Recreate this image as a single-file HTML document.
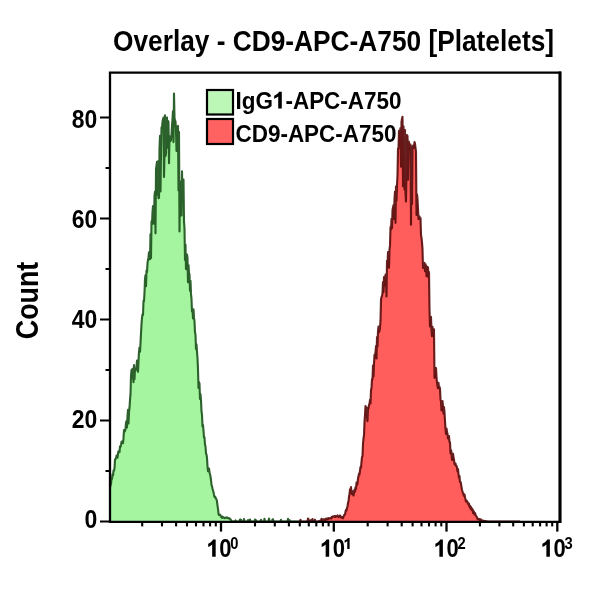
<!DOCTYPE html>
<html><head><meta charset="utf-8"><style>html,body{margin:0;padding:0;background:#fff;width:600px;height:600px;overflow:hidden}svg{display:block;will-change:transform}</style></head>
<body><svg width="600" height="600" viewBox="0 0 600 600"><g opacity="0.999">
<rect width="600" height="600" fill="#fff"/>
<path d="M110.00,521.5 L110.00,487.55 L110.50,485.46 L111.00,483.83 L111.50,479.44 L112.00,478.94 L112.50,474.19 L113.00,475.60 L113.50,470.67 L114.00,470.68 L114.50,468.36 L115.00,459.69 L115.50,458.82 L116.00,458.41 L116.50,455.58 L117.00,456.67 L117.50,457.72 L118.00,453.28 L118.50,451.19 L119.00,451.28 L119.50,452.08 L120.00,446.18 L120.50,446.90 L121.00,444.90 L121.50,441.88 L122.00,441.43 L122.50,442.69 L123.00,443.25 L123.50,438.13 L124.00,430.00 L124.50,431.71 L125.00,430.96 L125.50,429.00 L126.00,422.55 L126.50,421.19 L127.00,427.53 L127.50,416.05 L128.00,409.73 L128.50,423.51 L129.00,412.22 L129.50,407.98 L130.00,400.08 L130.50,394.18 L131.00,375.80 L131.50,370.12 L132.00,377.72 L132.50,368.82 L133.00,375.61 L133.50,382.21 L134.00,365.05 L134.50,379.26 L135.00,368.69 L135.50,370.29 L136.00,369.52 L136.50,366.75 L137.00,360.62 L137.50,369.15 L138.00,371.69 L138.50,361.06 L139.00,351.59 L139.50,347.44 L140.00,351.72 L140.50,343.11 L141.00,333.18 L141.50,324.14 L142.00,317.84 L142.50,314.42 L143.00,314.99 L143.50,300.91 L144.00,301.25 L144.50,292.47 L145.00,278.84 L145.50,275.17 L146.00,286.27 L146.50,270.62 L147.00,272.14 L147.50,263.14 L148.00,259.87 L148.50,257.38 L149.00,252.20 L149.50,259.20 L150.00,259.21 L150.50,234.02 L151.00,258.10 L151.50,221.24 L152.00,224.10 L152.50,212.01 L153.00,206.08 L153.50,213.76 L154.00,223.68 L154.50,195.70 L155.00,191.53 L155.50,233.34 L156.00,169.15 L156.50,165.48 L157.00,161.69 L157.50,194.61 L158.00,161.24 L158.50,198.22 L159.00,197.83 L159.50,148.35 L160.00,135.70 L160.50,191.52 L161.00,154.12 L161.50,127.41 L162.00,127.85 L162.50,121.98 L163.00,118.97 L163.50,117.53 L164.00,177.07 L164.50,154.36 L165.00,115.26 L165.50,156.00 L166.00,153.11 L166.50,119.86 L167.00,117.54 L167.50,147.64 L168.00,120.84 L168.50,122.00 L169.00,163.32 L169.50,136.07 L170.00,141.26 L170.50,137.22 L171.00,140.52 L171.50,135.52 L172.00,125.35 L172.50,119.09 L173.00,111.10 L173.50,142.11 L174.00,93.50 L174.50,117.76 L175.00,120.74 L175.50,121.24 L176.00,129.51 L176.50,150.97 L177.00,128.02 L177.50,126.90 L178.00,125.92 L178.50,190.48 L179.00,131.90 L179.50,231.51 L180.00,190.49 L180.50,186.32 L181.00,181.37 L181.50,215.44 L182.00,171.19 L182.50,197.92 L183.00,201.00 L183.50,179.56 L184.00,221.40 L184.50,228.30 L185.00,259.96 L185.50,244.48 L186.00,269.09 L186.50,259.26 L187.00,254.56 L187.50,257.99 L188.00,282.14 L188.50,264.95 L189.00,272.77 L189.50,274.44 L190.00,290.84 L190.50,280.85 L191.00,293.88 L191.50,298.78 L192.00,311.50 L192.50,309.57 L193.00,318.56 L193.50,309.41 L194.00,317.68 L194.50,321.08 L195.00,332.48 L195.50,334.42 L196.00,349.01 L196.50,344.37 L197.00,351.84 L197.50,357.83 L198.00,368.97 L198.50,388.06 L199.00,382.08 L199.50,383.66 L200.00,398.90 L200.50,393.98 L201.00,400.40 L201.50,411.36 L202.00,414.80 L202.50,426.42 L203.00,424.89 L203.50,430.63 L204.00,437.46 L204.50,437.29 L205.00,444.89 L205.50,446.29 L206.00,453.58 L206.50,454.30 L207.00,458.02 L207.50,466.16 L208.00,471.16 L208.50,470.87 L209.00,468.46 L209.50,472.17 L210.00,474.14 L210.50,476.40 L211.00,480.01 L211.50,484.79 L212.00,486.17 L212.50,488.42 L213.00,490.45 L213.50,491.97 L214.00,494.95 L214.50,497.08 L215.00,496.47 L215.50,497.37 L216.00,498.70 L216.50,499.16 L217.00,501.41 L217.50,505.60 L218.00,508.72 L218.50,513.59 L219.00,515.04 L219.50,514.83 L220.00,514.67 L220.50,515.37 L221.00,516.66 L221.50,517.29 L222.00,517.90 L222.50,516.52 L223.00,517.17 L223.50,517.42 L224.00,517.81 L224.50,518.06 L225.00,518.28 L225.50,517.53 L226.00,517.59 L226.50,517.69 L227.00,517.43 L227.50,518.16 L228.00,517.98 L228.50,517.96 L229.00,518.31 L229.50,518.52 L230.00,519.00 L230.50,519.17 L231.00,520.00 L231.50,520.75 L232.00,521.50 L232.50,521.50 L233.00,521.50 L233.50,521.50 L234.00,521.50 L234.50,521.50 L235.00,521.50 L235.50,520.38 L236.00,521.50 L236.50,521.50 L237.00,521.50 L237.50,521.50 L238.00,521.50 L238.50,521.50 L239.00,521.50 L239.50,521.50 L240.00,519.55 L240.50,521.50 L241.00,519.68 L241.50,521.50 L242.00,521.50 L242.50,521.50 L243.00,521.50 L243.50,521.50 L244.00,518.99 L244.50,521.50 L245.00,521.50 L245.50,521.50 L246.00,521.50 L246.50,521.50 L247.00,521.50 L247.50,521.50 L248.00,520.11 L248.50,521.50 L249.00,521.50 L249.50,521.50 L250.00,519.50 L250.50,521.50 L251.00,521.50 L251.50,521.50 L252.00,521.50 L252.50,521.50 L253.00,521.50 L253.50,521.50 L254.00,521.50 L254.50,521.50 L255.00,519.55 L255.50,521.50 L256.00,520.12 L256.50,521.50 L257.00,521.50 L257.50,521.50 L258.00,521.50 L258.50,521.50 L259.00,521.50 L259.50,521.50 L260.00,521.50 L260.50,521.50 L261.00,519.71 L261.50,521.50 L262.00,521.50 L262.50,521.50 L263.00,521.50 L263.50,521.50 L264.00,521.50 L264.50,518.70 L265.00,521.50 L265.50,521.50 L266.00,521.50 L266.50,521.50 L267.00,521.50 L267.50,521.50 L268.00,521.50 L268.50,521.50 L269.00,518.65 L269.50,521.50 L270.00,521.50 L270.50,521.50 L271.00,521.50 L271.50,521.50 L272.00,521.50 L272.50,519.38 L273.00,519.30 L273.50,521.50 L274.00,521.50 L274.50,521.50 L275.00,521.50 L275.50,521.50 L276.00,521.50 L276.50,521.50 L277.00,521.50 L277.50,521.50 L278.00,521.50 L278.50,521.50 L279.00,521.50 L279.50,521.50 L280.00,521.50 L280.50,521.50 L281.00,519.80 L281.50,521.50 L282.00,521.50 L282.50,521.50 L283.00,521.50 L283.50,521.50 L284.00,521.50 L284.50,521.50 L285.00,521.50 L285.50,521.50 L286.00,521.50 L286.50,521.50 L287.00,521.50 L287.50,521.50 L288.00,518.86 L288.50,521.50 L289.00,521.50 L289.50,520.20 L290.00,521.50 L290.50,521.50 L291.00,521.50 L291.50,521.50 L292.00,521.50 L292.50,521.50 L293.00,521.50 L293.50,521.50 L294.00,521.50 L294.50,521.50 L295.00,521.50 L295.50,521.50 L296.00,521.50 L296.50,521.50 L297.00,521.50 L297.50,521.50 L298.00,521.50 L298.50,521.50 L299.00,521.50 L299.50,521.50 L300.00,521.50 L300.00,521.5 Z" fill="#a5f4a0"/>
<path d="M110.00,487.55 L110.50,485.46 L111.00,483.83 L111.50,479.44 L112.00,478.94 L112.50,474.19 L113.00,475.60 L113.50,470.67 L114.00,470.68 L114.50,468.36 L115.00,459.69 L115.50,458.82 L116.00,458.41 L116.50,455.58 L117.00,456.67 L117.50,457.72 L118.00,453.28 L118.50,451.19 L119.00,451.28 L119.50,452.08 L120.00,446.18 L120.50,446.90 L121.00,444.90 L121.50,441.88 L122.00,441.43 L122.50,442.69 L123.00,443.25 L123.50,438.13 L124.00,430.00 L124.50,431.71 L125.00,430.96 L125.50,429.00 L126.00,422.55 L126.50,421.19 L127.00,427.53 L127.50,416.05 L128.00,409.73 L128.50,423.51 L129.00,412.22 L129.50,407.98 L130.00,400.08 L130.50,394.18 L131.00,375.80 L131.50,370.12 L132.00,377.72 L132.50,368.82 L133.00,375.61 L133.50,382.21 L134.00,365.05 L134.50,379.26 L135.00,368.69 L135.50,370.29 L136.00,369.52 L136.50,366.75 L137.00,360.62 L137.50,369.15 L138.00,371.69 L138.50,361.06 L139.00,351.59 L139.50,347.44 L140.00,351.72 L140.50,343.11 L141.00,333.18 L141.50,324.14 L142.00,317.84 L142.50,314.42 L143.00,314.99 L143.50,300.91 L144.00,301.25 L144.50,292.47 L145.00,278.84 L145.50,275.17 L146.00,286.27 L146.50,270.62 L147.00,272.14 L147.50,263.14 L148.00,259.87 L148.50,257.38 L149.00,252.20 L149.50,259.20 L150.00,259.21 L150.50,234.02 L151.00,258.10 L151.50,221.24 L152.00,224.10 L152.50,212.01 L153.00,206.08 L153.50,213.76 L154.00,223.68 L154.50,195.70 L155.00,191.53 L155.50,233.34 L156.00,169.15 L156.50,165.48 L157.00,161.69 L157.50,194.61 L158.00,161.24 L158.50,198.22 L159.00,197.83 L159.50,148.35 L160.00,135.70 L160.50,191.52 L161.00,154.12 L161.50,127.41 L162.00,127.85 L162.50,121.98 L163.00,118.97 L163.50,117.53 L164.00,177.07 L164.50,154.36 L165.00,115.26 L165.50,156.00 L166.00,153.11 L166.50,119.86 L167.00,117.54 L167.50,147.64 L168.00,120.84 L168.50,122.00 L169.00,163.32 L169.50,136.07 L170.00,141.26 L170.50,137.22 L171.00,140.52 L171.50,135.52 L172.00,125.35 L172.50,119.09 L173.00,111.10 L173.50,142.11 L174.00,93.50 L174.50,117.76 L175.00,120.74 L175.50,121.24 L176.00,129.51 L176.50,150.97 L177.00,128.02 L177.50,126.90 L178.00,125.92 L178.50,190.48 L179.00,131.90 L179.50,231.51 L180.00,190.49 L180.50,186.32 L181.00,181.37 L181.50,215.44 L182.00,171.19 L182.50,197.92 L183.00,201.00 L183.50,179.56 L184.00,221.40 L184.50,228.30 L185.00,259.96 L185.50,244.48 L186.00,269.09 L186.50,259.26 L187.00,254.56 L187.50,257.99 L188.00,282.14 L188.50,264.95 L189.00,272.77 L189.50,274.44 L190.00,290.84 L190.50,280.85 L191.00,293.88 L191.50,298.78 L192.00,311.50 L192.50,309.57 L193.00,318.56 L193.50,309.41 L194.00,317.68 L194.50,321.08 L195.00,332.48 L195.50,334.42 L196.00,349.01 L196.50,344.37 L197.00,351.84 L197.50,357.83 L198.00,368.97 L198.50,388.06 L199.00,382.08 L199.50,383.66 L200.00,398.90 L200.50,393.98 L201.00,400.40 L201.50,411.36 L202.00,414.80 L202.50,426.42 L203.00,424.89 L203.50,430.63 L204.00,437.46 L204.50,437.29 L205.00,444.89 L205.50,446.29 L206.00,453.58 L206.50,454.30 L207.00,458.02 L207.50,466.16 L208.00,471.16 L208.50,470.87 L209.00,468.46 L209.50,472.17 L210.00,474.14 L210.50,476.40 L211.00,480.01 L211.50,484.79 L212.00,486.17 L212.50,488.42 L213.00,490.45 L213.50,491.97 L214.00,494.95 L214.50,497.08 L215.00,496.47 L215.50,497.37 L216.00,498.70 L216.50,499.16 L217.00,501.41 L217.50,505.60 L218.00,508.72 L218.50,513.59 L219.00,515.04 L219.50,514.83 L220.00,514.67 L220.50,515.37 L221.00,516.66 L221.50,517.29 L222.00,517.90 L222.50,516.52 L223.00,517.17 L223.50,517.42 L224.00,517.81 L224.50,518.06 L225.00,518.28 L225.50,517.53 L226.00,517.59 L226.50,517.69 L227.00,517.43 L227.50,518.16 L228.00,517.98 L228.50,517.96 L229.00,518.31 L229.50,518.52 L230.00,519.00 L230.50,519.17 L231.00,520.00 L231.50,520.75 L232.00,521.50 L232.50,521.50 L233.00,521.50 L233.50,521.50 L234.00,521.50 L234.50,521.50 L235.00,521.50 L235.50,520.38 L236.00,521.50 L236.50,521.50 L237.00,521.50 L237.50,521.50 L238.00,521.50 L238.50,521.50 L239.00,521.50 L239.50,521.50 L240.00,519.55 L240.50,521.50 L241.00,519.68 L241.50,521.50 L242.00,521.50 L242.50,521.50 L243.00,521.50 L243.50,521.50 L244.00,518.99 L244.50,521.50 L245.00,521.50 L245.50,521.50 L246.00,521.50 L246.50,521.50 L247.00,521.50 L247.50,521.50 L248.00,520.11 L248.50,521.50 L249.00,521.50 L249.50,521.50 L250.00,519.50 L250.50,521.50 L251.00,521.50 L251.50,521.50 L252.00,521.50 L252.50,521.50 L253.00,521.50 L253.50,521.50 L254.00,521.50 L254.50,521.50 L255.00,519.55 L255.50,521.50 L256.00,520.12 L256.50,521.50 L257.00,521.50 L257.50,521.50 L258.00,521.50 L258.50,521.50 L259.00,521.50 L259.50,521.50 L260.00,521.50 L260.50,521.50 L261.00,519.71 L261.50,521.50 L262.00,521.50 L262.50,521.50 L263.00,521.50 L263.50,521.50 L264.00,521.50 L264.50,518.70 L265.00,521.50 L265.50,521.50 L266.00,521.50 L266.50,521.50 L267.00,521.50 L267.50,521.50 L268.00,521.50 L268.50,521.50 L269.00,518.65 L269.50,521.50 L270.00,521.50 L270.50,521.50 L271.00,521.50 L271.50,521.50 L272.00,521.50 L272.50,519.38 L273.00,519.30 L273.50,521.50 L274.00,521.50 L274.50,521.50 L275.00,521.50 L275.50,521.50 L276.00,521.50 L276.50,521.50 L277.00,521.50 L277.50,521.50 L278.00,521.50 L278.50,521.50 L279.00,521.50 L279.50,521.50 L280.00,521.50 L280.50,521.50 L281.00,519.80 L281.50,521.50 L282.00,521.50 L282.50,521.50 L283.00,521.50 L283.50,521.50 L284.00,521.50 L284.50,521.50 L285.00,521.50 L285.50,521.50 L286.00,521.50 L286.50,521.50 L287.00,521.50 L287.50,521.50 L288.00,518.86 L288.50,521.50 L289.00,521.50 L289.50,520.20 L290.00,521.50 L290.50,521.50 L291.00,521.50 L291.50,521.50 L292.00,521.50 L292.50,521.50 L293.00,521.50 L293.50,521.50 L294.00,521.50 L294.50,521.50 L295.00,521.50 L295.50,521.50 L296.00,521.50 L296.50,521.50 L297.00,521.50 L297.50,521.50 L298.00,521.50 L298.50,521.50 L299.00,521.50 L299.50,521.50 L300.00,521.50" fill="none" stroke="#1a501a" stroke-width="2.1" stroke-linejoin="round" stroke-opacity="0.9"/>
<path d="M300.00,521.5 L300.00,521.50 L300.50,519.83 L301.00,521.50 L301.50,521.50 L302.00,521.50 L302.50,521.50 L303.00,521.50 L303.50,521.50 L304.00,521.50 L304.50,521.50 L305.00,521.50 L305.50,521.50 L306.00,521.50 L306.50,521.50 L307.00,521.50 L307.50,521.50 L308.00,518.64 L308.50,519.11 L309.00,521.50 L309.50,521.50 L310.00,521.50 L310.50,521.50 L311.00,520.09 L311.50,521.50 L312.00,521.50 L312.50,518.99 L313.00,521.50 L313.50,521.50 L314.00,521.50 L314.50,521.50 L315.00,519.67 L315.50,521.50 L316.00,521.50 L316.50,521.50 L317.00,521.50 L317.50,521.50 L318.00,521.50 L318.50,521.33 L319.00,521.17 L319.50,521.00 L320.00,520.83 L320.50,520.67 L321.00,520.50 L321.50,518.72 L322.00,520.17 L322.50,520.00 L323.00,519.40 L323.50,519.74 L324.00,519.27 L324.50,519.39 L325.00,520.26 L325.50,519.89 L326.00,518.66 L326.50,518.76 L327.00,519.43 L327.50,518.45 L328.00,519.08 L328.50,518.31 L329.00,518.07 L329.50,518.37 L330.00,518.36 L330.50,518.20 L331.00,517.56 L331.50,518.51 L332.00,516.94 L332.50,516.56 L333.00,516.35 L333.50,516.34 L334.00,516.90 L334.50,516.21 L335.00,515.87 L335.50,516.79 L336.00,516.51 L336.50,516.30 L337.00,516.41 L337.50,515.40 L338.00,516.59 L338.50,517.12 L339.00,516.54 L339.50,515.86 L340.00,515.48 L340.50,516.93 L341.00,517.34 L341.50,516.95 L342.00,517.73 L342.50,517.09 L343.00,518.24 L343.50,516.71 L344.00,515.21 L344.50,514.62 L345.00,514.57 L345.50,511.56 L346.00,509.93 L346.50,510.53 L347.00,507.89 L347.50,506.51 L348.00,502.65 L348.50,501.48 L349.00,496.71 L349.50,494.09 L350.00,489.35 L350.50,489.78 L351.00,487.07 L351.50,493.28 L352.00,494.05 L352.50,491.30 L353.00,493.92 L353.50,495.56 L354.00,492.85 L354.50,489.64 L355.00,491.61 L355.50,487.36 L356.00,488.96 L356.50,482.57 L357.00,484.80 L357.50,483.30 L358.00,478.41 L358.50,476.33 L359.00,473.67 L359.50,474.51 L360.00,470.29 L360.50,466.97 L361.00,467.54 L361.50,461.83 L362.00,456.93 L362.50,456.11 L363.00,443.44 L363.50,438.28 L364.00,435.11 L364.50,422.23 L365.00,414.72 L365.50,406.02 L366.00,407.36 L366.50,414.82 L367.00,415.81 L367.50,421.08 L368.00,407.46 L368.50,408.51 L369.00,404.83 L369.50,403.71 L370.00,399.86 L370.50,403.58 L371.00,390.08 L371.50,387.97 L372.00,379.07 L372.50,379.29 L373.00,365.31 L373.50,376.39 L374.00,363.72 L374.50,354.82 L375.00,355.75 L375.50,352.72 L376.00,345.98 L376.50,358.51 L377.00,337.13 L377.50,346.47 L378.00,331.15 L378.50,326.52 L379.00,332.23 L379.50,330.87 L380.00,327.26 L380.50,320.91 L381.00,299.48 L381.50,297.03 L382.00,296.16 L382.50,293.07 L383.00,282.07 L383.50,291.89 L384.00,277.09 L384.50,279.70 L385.00,285.53 L385.50,274.60 L386.00,275.57 L386.50,296.49 L387.00,260.86 L387.50,264.69 L388.00,252.07 L388.50,255.84 L389.00,267.82 L389.50,249.56 L390.00,245.15 L390.50,226.94 L391.00,229.54 L391.50,218.84 L392.00,228.31 L392.50,210.29 L393.00,207.54 L393.50,205.10 L394.00,218.83 L394.50,199.36 L395.00,191.50 L395.50,222.85 L396.00,186.30 L396.50,200.65 L397.00,185.32 L397.50,175.01 L398.00,148.52 L398.50,148.57 L399.00,130.86 L399.50,131.39 L400.00,131.99 L400.50,127.96 L401.00,166.81 L401.50,121.95 L402.00,118.70 L402.50,116.70 L403.00,186.23 L403.50,126.19 L404.00,146.30 L404.50,189.59 L405.00,129.94 L405.50,193.47 L406.00,201.57 L406.50,168.67 L407.00,135.06 L407.50,135.92 L408.00,179.64 L408.50,141.22 L409.00,142.30 L409.50,146.48 L410.00,148.70 L410.50,144.52 L411.00,224.76 L411.50,148.93 L412.00,203.93 L412.50,146.47 L413.00,145.69 L413.50,146.22 L414.00,147.85 L414.50,141.99 L415.00,143.67 L415.50,147.76 L416.00,151.61 L416.50,214.98 L417.00,194.33 L417.50,198.95 L418.00,209.09 L418.50,218.88 L419.00,218.99 L419.50,216.60 L420.00,219.12 L420.50,218.08 L421.00,234.67 L421.50,237.83 L422.00,242.36 L422.50,248.84 L423.00,268.07 L423.50,267.00 L424.00,263.30 L424.50,262.98 L425.00,271.30 L425.50,264.29 L426.00,266.00 L426.50,276.12 L427.00,266.95 L427.50,266.75 L428.00,267.59 L428.50,277.43 L429.00,272.11 L429.50,309.13 L430.00,326.57 L430.50,317.06 L431.00,316.93 L431.50,330.73 L432.00,336.24 L432.50,326.78 L433.00,333.49 L433.50,329.48 L434.00,329.35 L434.50,377.84 L435.00,367.49 L435.50,372.87 L436.00,368.06 L436.50,376.83 L437.00,382.80 L437.50,385.72 L438.00,388.21 L438.50,382.83 L439.00,388.04 L439.50,386.90 L440.00,388.47 L440.50,399.17 L441.00,401.81 L441.50,410.43 L442.00,403.96 L442.50,400.99 L443.00,406.55 L443.50,413.59 L444.00,407.00 L444.50,412.34 L445.00,421.07 L445.50,429.02 L446.00,434.01 L446.50,428.48 L447.00,431.37 L447.50,434.27 L448.00,438.35 L448.50,438.01 L449.00,436.08 L449.50,442.12 L450.00,442.24 L450.50,453.38 L451.00,449.98 L451.50,452.63 L452.00,460.01 L452.50,455.52 L453.00,453.71 L453.50,456.84 L454.00,459.58 L454.50,464.00 L455.00,464.75 L455.50,463.49 L456.00,465.71 L456.50,465.83 L457.00,467.81 L457.50,471.42 L458.00,469.06 L458.50,474.06 L459.00,477.97 L459.50,476.11 L460.00,481.88 L460.50,481.74 L461.00,483.84 L461.50,486.94 L462.00,489.69 L462.50,491.60 L463.00,492.92 L463.50,494.39 L464.00,495.83 L464.50,494.48 L465.00,497.23 L465.50,499.17 L466.00,501.44 L466.50,500.54 L467.00,501.18 L467.50,501.94 L468.00,503.59 L468.50,504.62 L469.00,503.69 L469.50,506.75 L470.00,505.67 L470.50,508.53 L471.00,507.02 L471.50,509.72 L472.00,508.55 L472.50,509.36 L473.00,512.87 L473.50,510.89 L474.00,512.14 L474.50,514.54 L475.00,513.09 L475.50,514.55 L476.00,515.97 L476.50,516.64 L477.00,517.16 L477.50,519.11 L478.00,518.75 L478.50,519.31 L479.00,518.92 L479.50,519.40 L480.00,519.28 L480.50,520.83 L481.00,519.37 L481.50,520.25 L482.00,520.50 L482.50,520.58 L483.00,520.67 L483.50,520.75 L484.00,520.83 L484.50,520.92 L485.00,521.00 L485.50,521.08 L486.00,521.17 L486.50,521.25 L487.00,521.33 L487.50,521.42 L488.00,521.50 L488.50,521.50 L489.00,521.50 L489.50,521.50 L490.00,521.50 L490.50,521.50 L491.00,521.50 L491.50,521.50 L492.00,521.50 L492.50,521.50 L493.00,521.50 L493.50,521.50 L494.00,521.50 L494.50,521.50 L495.00,521.50 L495.50,521.50 L496.00,521.50 L496.50,521.50 L497.00,521.50 L497.50,521.50 L498.00,521.50 L498.50,521.50 L499.00,521.50 L499.50,521.50 L500.00,521.50 L500.50,521.50 L501.00,521.50 L501.50,521.50 L502.00,521.50 L502.50,521.50 L503.00,521.50 L503.50,521.50 L504.00,521.50 L504.50,521.50 L505.00,521.50 L505.50,521.50 L506.00,521.50 L506.50,521.50 L507.00,521.50 L507.50,521.50 L508.00,521.50 L508.50,521.50 L509.00,521.50 L509.50,521.50 L510.00,521.50 L510.50,521.50 L511.00,521.50 L511.50,521.50 L512.00,521.50 L512.50,521.50 L513.00,521.50 L513.50,521.50 L514.00,521.50 L514.50,521.50 L515.00,521.50 L515.50,521.50 L516.00,521.50 L516.50,521.50 L517.00,521.50 L517.50,521.50 L518.00,521.50 L518.50,521.50 L519.00,521.50 L519.50,521.50 L520.00,521.50 L520.00,521.5 Z" fill="#ff5e5c"/>
<path d="M300.00,521.50 L300.50,519.83 L301.00,521.50 L301.50,521.50 L302.00,521.50 L302.50,521.50 L303.00,521.50 L303.50,521.50 L304.00,521.50 L304.50,521.50 L305.00,521.50 L305.50,521.50 L306.00,521.50 L306.50,521.50 L307.00,521.50 L307.50,521.50 L308.00,518.64 L308.50,519.11 L309.00,521.50 L309.50,521.50 L310.00,521.50 L310.50,521.50 L311.00,520.09 L311.50,521.50 L312.00,521.50 L312.50,518.99 L313.00,521.50 L313.50,521.50 L314.00,521.50 L314.50,521.50 L315.00,519.67 L315.50,521.50 L316.00,521.50 L316.50,521.50 L317.00,521.50 L317.50,521.50 L318.00,521.50 L318.50,521.33 L319.00,521.17 L319.50,521.00 L320.00,520.83 L320.50,520.67 L321.00,520.50 L321.50,518.72 L322.00,520.17 L322.50,520.00 L323.00,519.40 L323.50,519.74 L324.00,519.27 L324.50,519.39 L325.00,520.26 L325.50,519.89 L326.00,518.66 L326.50,518.76 L327.00,519.43 L327.50,518.45 L328.00,519.08 L328.50,518.31 L329.00,518.07 L329.50,518.37 L330.00,518.36 L330.50,518.20 L331.00,517.56 L331.50,518.51 L332.00,516.94 L332.50,516.56 L333.00,516.35 L333.50,516.34 L334.00,516.90 L334.50,516.21 L335.00,515.87 L335.50,516.79 L336.00,516.51 L336.50,516.30 L337.00,516.41 L337.50,515.40 L338.00,516.59 L338.50,517.12 L339.00,516.54 L339.50,515.86 L340.00,515.48 L340.50,516.93 L341.00,517.34 L341.50,516.95 L342.00,517.73 L342.50,517.09 L343.00,518.24 L343.50,516.71 L344.00,515.21 L344.50,514.62 L345.00,514.57 L345.50,511.56 L346.00,509.93 L346.50,510.53 L347.00,507.89 L347.50,506.51 L348.00,502.65 L348.50,501.48 L349.00,496.71 L349.50,494.09 L350.00,489.35 L350.50,489.78 L351.00,487.07 L351.50,493.28 L352.00,494.05 L352.50,491.30 L353.00,493.92 L353.50,495.56 L354.00,492.85 L354.50,489.64 L355.00,491.61 L355.50,487.36 L356.00,488.96 L356.50,482.57 L357.00,484.80 L357.50,483.30 L358.00,478.41 L358.50,476.33 L359.00,473.67 L359.50,474.51 L360.00,470.29 L360.50,466.97 L361.00,467.54 L361.50,461.83 L362.00,456.93 L362.50,456.11 L363.00,443.44 L363.50,438.28 L364.00,435.11 L364.50,422.23 L365.00,414.72 L365.50,406.02 L366.00,407.36 L366.50,414.82 L367.00,415.81 L367.50,421.08 L368.00,407.46 L368.50,408.51 L369.00,404.83 L369.50,403.71 L370.00,399.86 L370.50,403.58 L371.00,390.08 L371.50,387.97 L372.00,379.07 L372.50,379.29 L373.00,365.31 L373.50,376.39 L374.00,363.72 L374.50,354.82 L375.00,355.75 L375.50,352.72 L376.00,345.98 L376.50,358.51 L377.00,337.13 L377.50,346.47 L378.00,331.15 L378.50,326.52 L379.00,332.23 L379.50,330.87 L380.00,327.26 L380.50,320.91 L381.00,299.48 L381.50,297.03 L382.00,296.16 L382.50,293.07 L383.00,282.07 L383.50,291.89 L384.00,277.09 L384.50,279.70 L385.00,285.53 L385.50,274.60 L386.00,275.57 L386.50,296.49 L387.00,260.86 L387.50,264.69 L388.00,252.07 L388.50,255.84 L389.00,267.82 L389.50,249.56 L390.00,245.15 L390.50,226.94 L391.00,229.54 L391.50,218.84 L392.00,228.31 L392.50,210.29 L393.00,207.54 L393.50,205.10 L394.00,218.83 L394.50,199.36 L395.00,191.50 L395.50,222.85 L396.00,186.30 L396.50,200.65 L397.00,185.32 L397.50,175.01 L398.00,148.52 L398.50,148.57 L399.00,130.86 L399.50,131.39 L400.00,131.99 L400.50,127.96 L401.00,166.81 L401.50,121.95 L402.00,118.70 L402.50,116.70 L403.00,186.23 L403.50,126.19 L404.00,146.30 L404.50,189.59 L405.00,129.94 L405.50,193.47 L406.00,201.57 L406.50,168.67 L407.00,135.06 L407.50,135.92 L408.00,179.64 L408.50,141.22 L409.00,142.30 L409.50,146.48 L410.00,148.70 L410.50,144.52 L411.00,224.76 L411.50,148.93 L412.00,203.93 L412.50,146.47 L413.00,145.69 L413.50,146.22 L414.00,147.85 L414.50,141.99 L415.00,143.67 L415.50,147.76 L416.00,151.61 L416.50,214.98 L417.00,194.33 L417.50,198.95 L418.00,209.09 L418.50,218.88 L419.00,218.99 L419.50,216.60 L420.00,219.12 L420.50,218.08 L421.00,234.67 L421.50,237.83 L422.00,242.36 L422.50,248.84 L423.00,268.07 L423.50,267.00 L424.00,263.30 L424.50,262.98 L425.00,271.30 L425.50,264.29 L426.00,266.00 L426.50,276.12 L427.00,266.95 L427.50,266.75 L428.00,267.59 L428.50,277.43 L429.00,272.11 L429.50,309.13 L430.00,326.57 L430.50,317.06 L431.00,316.93 L431.50,330.73 L432.00,336.24 L432.50,326.78 L433.00,333.49 L433.50,329.48 L434.00,329.35 L434.50,377.84 L435.00,367.49 L435.50,372.87 L436.00,368.06 L436.50,376.83 L437.00,382.80 L437.50,385.72 L438.00,388.21 L438.50,382.83 L439.00,388.04 L439.50,386.90 L440.00,388.47 L440.50,399.17 L441.00,401.81 L441.50,410.43 L442.00,403.96 L442.50,400.99 L443.00,406.55 L443.50,413.59 L444.00,407.00 L444.50,412.34 L445.00,421.07 L445.50,429.02 L446.00,434.01 L446.50,428.48 L447.00,431.37 L447.50,434.27 L448.00,438.35 L448.50,438.01 L449.00,436.08 L449.50,442.12 L450.00,442.24 L450.50,453.38 L451.00,449.98 L451.50,452.63 L452.00,460.01 L452.50,455.52 L453.00,453.71 L453.50,456.84 L454.00,459.58 L454.50,464.00 L455.00,464.75 L455.50,463.49 L456.00,465.71 L456.50,465.83 L457.00,467.81 L457.50,471.42 L458.00,469.06 L458.50,474.06 L459.00,477.97 L459.50,476.11 L460.00,481.88 L460.50,481.74 L461.00,483.84 L461.50,486.94 L462.00,489.69 L462.50,491.60 L463.00,492.92 L463.50,494.39 L464.00,495.83 L464.50,494.48 L465.00,497.23 L465.50,499.17 L466.00,501.44 L466.50,500.54 L467.00,501.18 L467.50,501.94 L468.00,503.59 L468.50,504.62 L469.00,503.69 L469.50,506.75 L470.00,505.67 L470.50,508.53 L471.00,507.02 L471.50,509.72 L472.00,508.55 L472.50,509.36 L473.00,512.87 L473.50,510.89 L474.00,512.14 L474.50,514.54 L475.00,513.09 L475.50,514.55 L476.00,515.97 L476.50,516.64 L477.00,517.16 L477.50,519.11 L478.00,518.75 L478.50,519.31 L479.00,518.92 L479.50,519.40 L480.00,519.28 L480.50,520.83 L481.00,519.37 L481.50,520.25 L482.00,520.50 L482.50,520.58 L483.00,520.67 L483.50,520.75 L484.00,520.83 L484.50,520.92 L485.00,521.00 L485.50,521.08 L486.00,521.17 L486.50,521.25 L487.00,521.33 L487.50,521.42 L488.00,521.50 L488.50,521.50 L489.00,521.50 L489.50,521.50 L490.00,521.50 L490.50,521.50 L491.00,521.50 L491.50,521.50 L492.00,521.50 L492.50,521.50 L493.00,521.50 L493.50,521.50 L494.00,521.50 L494.50,521.50 L495.00,521.50 L495.50,521.50 L496.00,521.50 L496.50,521.50 L497.00,521.50 L497.50,521.50 L498.00,521.50 L498.50,521.50 L499.00,521.50 L499.50,521.50 L500.00,521.50 L500.50,521.50 L501.00,521.50 L501.50,521.50 L502.00,521.50 L502.50,521.50 L503.00,521.50 L503.50,521.50 L504.00,521.50 L504.50,521.50 L505.00,521.50 L505.50,521.50 L506.00,521.50 L506.50,521.50 L507.00,521.50 L507.50,521.50 L508.00,521.50 L508.50,521.50 L509.00,521.50 L509.50,521.50 L510.00,521.50 L510.50,521.50 L511.00,521.50 L511.50,521.50 L512.00,521.50 L512.50,521.50 L513.00,521.50 L513.50,521.50 L514.00,521.50 L514.50,521.50 L515.00,521.50 L515.50,521.50 L516.00,521.50 L516.50,521.50 L517.00,521.50 L517.50,521.50 L518.00,521.50 L518.50,521.50 L519.00,521.50 L519.50,521.50 L520.00,521.50" fill="none" stroke="#560a0a" stroke-width="2.1" stroke-linejoin="round" stroke-opacity="0.9"/>
<path d="M110,72.7 L560,72.7 L560,521.8 L110,521.8 Z" fill="none" stroke="#000" stroke-width="2.3"/><line x1="560" y1="71.5" x2="560" y2="523" stroke="#000" stroke-width="3"/>
<line x1="100" y1="521.5" x2="110" y2="521.5" stroke="#000" stroke-width="2"/>
<line x1="100" y1="420.5" x2="110" y2="420.5" stroke="#000" stroke-width="2"/>
<line x1="100" y1="319.5" x2="110" y2="319.5" stroke="#000" stroke-width="2"/>
<line x1="100" y1="218.5" x2="110" y2="218.5" stroke="#000" stroke-width="2"/>
<line x1="100" y1="117.5" x2="110" y2="117.5" stroke="#000" stroke-width="2"/>
<line x1="105.5" y1="471.0" x2="110" y2="471.0" stroke="#000" stroke-width="2"/>
<line x1="105.5" y1="370.0" x2="110" y2="370.0" stroke="#000" stroke-width="2"/>
<line x1="105.5" y1="269.0" x2="110" y2="269.0" stroke="#000" stroke-width="2"/>
<line x1="105.5" y1="168.0" x2="110" y2="168.0" stroke="#000" stroke-width="2"/>
<line x1="142.2" y1="522" x2="142.2" y2="526.4" stroke="#000" stroke-width="2.1"/>
<line x1="162.0" y1="522" x2="162.0" y2="526.4" stroke="#000" stroke-width="2.1"/>
<line x1="176.1" y1="522" x2="176.1" y2="526.4" stroke="#000" stroke-width="2.1"/>
<line x1="187.0" y1="522" x2="187.0" y2="526.4" stroke="#000" stroke-width="2.1"/>
<line x1="196.0" y1="522" x2="196.0" y2="526.4" stroke="#000" stroke-width="2.1"/>
<line x1="203.5" y1="522" x2="203.5" y2="526.4" stroke="#000" stroke-width="2.1"/>
<line x1="210.1" y1="522" x2="210.1" y2="526.4" stroke="#000" stroke-width="2.1"/>
<line x1="215.8" y1="522" x2="215.8" y2="526.4" stroke="#000" stroke-width="2.1"/>
<line x1="221.0" y1="522" x2="221.0" y2="531.6" stroke="#000" stroke-width="2.3"/>
<line x1="255.0" y1="522" x2="255.0" y2="526.4" stroke="#000" stroke-width="2.1"/>
<line x1="274.8" y1="522" x2="274.8" y2="526.4" stroke="#000" stroke-width="2.1"/>
<line x1="288.9" y1="522" x2="288.9" y2="526.4" stroke="#000" stroke-width="2.1"/>
<line x1="299.8" y1="522" x2="299.8" y2="526.4" stroke="#000" stroke-width="2.1"/>
<line x1="308.8" y1="522" x2="308.8" y2="526.4" stroke="#000" stroke-width="2.1"/>
<line x1="316.3" y1="522" x2="316.3" y2="526.4" stroke="#000" stroke-width="2.1"/>
<line x1="322.9" y1="522" x2="322.9" y2="526.4" stroke="#000" stroke-width="2.1"/>
<line x1="328.6" y1="522" x2="328.6" y2="526.4" stroke="#000" stroke-width="2.1"/>
<line x1="333.8" y1="522" x2="333.8" y2="531.6" stroke="#000" stroke-width="2.3"/>
<line x1="367.7" y1="522" x2="367.7" y2="526.4" stroke="#000" stroke-width="2.1"/>
<line x1="387.6" y1="522" x2="387.6" y2="526.4" stroke="#000" stroke-width="2.1"/>
<line x1="401.7" y1="522" x2="401.7" y2="526.4" stroke="#000" stroke-width="2.1"/>
<line x1="412.6" y1="522" x2="412.6" y2="526.4" stroke="#000" stroke-width="2.1"/>
<line x1="421.5" y1="522" x2="421.5" y2="526.4" stroke="#000" stroke-width="2.1"/>
<line x1="429.0" y1="522" x2="429.0" y2="526.4" stroke="#000" stroke-width="2.1"/>
<line x1="435.6" y1="522" x2="435.6" y2="526.4" stroke="#000" stroke-width="2.1"/>
<line x1="441.3" y1="522" x2="441.3" y2="526.4" stroke="#000" stroke-width="2.1"/>
<line x1="446.5" y1="522" x2="446.5" y2="531.6" stroke="#000" stroke-width="2.3"/>
<line x1="479.9" y1="522" x2="479.9" y2="526.4" stroke="#000" stroke-width="2.1"/>
<line x1="499.4" y1="522" x2="499.4" y2="526.4" stroke="#000" stroke-width="2.1"/>
<line x1="513.2" y1="522" x2="513.2" y2="526.4" stroke="#000" stroke-width="2.1"/>
<line x1="523.9" y1="522" x2="523.9" y2="526.4" stroke="#000" stroke-width="2.1"/>
<line x1="532.7" y1="522" x2="532.7" y2="526.4" stroke="#000" stroke-width="2.1"/>
<line x1="540.1" y1="522" x2="540.1" y2="526.4" stroke="#000" stroke-width="2.1"/>
<line x1="546.6" y1="522" x2="546.6" y2="526.4" stroke="#000" stroke-width="2.1"/>
<line x1="552.2" y1="522" x2="552.2" y2="526.4" stroke="#000" stroke-width="2.1"/>
<line x1="557.3" y1="522" x2="557.3" y2="531.6" stroke="#000" stroke-width="2.3"/>
<text id="t1" x="113" y="51" font-family='"Liberation Sans", sans-serif' font-weight="bold" font-size="29" textLength="441" lengthAdjust="spacingAndGlyphs" text-anchor="start" >Overlay - CD9-APC-A750 [Platelets]</text>
<text id="t2" x="97.2" y="527.6" font-family='"Liberation Sans", sans-serif' font-weight="bold" font-size="25.5" textLength="12.8" lengthAdjust="spacingAndGlyphs" text-anchor="end" >0</text>
<text id="t3" x="97.2" y="427.6" font-family='"Liberation Sans", sans-serif' font-weight="bold" font-size="25.5" textLength="25.5" lengthAdjust="spacingAndGlyphs" text-anchor="end" >20</text>
<text id="t4" x="97.2" y="327.6" font-family='"Liberation Sans", sans-serif' font-weight="bold" font-size="25.5" textLength="25.5" lengthAdjust="spacingAndGlyphs" text-anchor="end" >40</text>
<text id="t5" x="97.2" y="227.60000000000002" font-family='"Liberation Sans", sans-serif' font-weight="bold" font-size="25.5" textLength="25.5" lengthAdjust="spacingAndGlyphs" text-anchor="end" >60</text>
<text id="t6" x="97.2" y="127.60000000000002" font-family='"Liberation Sans", sans-serif' font-weight="bold" font-size="25.5" textLength="25.5" lengthAdjust="spacingAndGlyphs" text-anchor="end" >80</text>
<text id="t7" x="207.0" y="556.8" font-family='"Liberation Sans", sans-serif' font-weight="bold" font-size="25" textLength="24.5" lengthAdjust="spacingAndGlyphs" text-anchor="start" ><tspan fill="transparent">1</tspan>0</text><path d="M806,0 L480,0 L480,1010 Q330,880 110,811 L110,1076 Q240,1115 375,1208 Q510,1300 560,1409 L806,1409 Z" transform="translate(207.00,556.8) scale(0.01076,-0.01221)" fill="#000"/>
<text id="t8" x="230.3" y="549.0" font-family='"Liberation Sans", sans-serif' font-weight="bold" font-size="16" textLength="8.2" lengthAdjust="spacingAndGlyphs" text-anchor="start" >0</text>
<text id="t9" x="320.5" y="556.8" font-family='"Liberation Sans", sans-serif' font-weight="bold" font-size="25" textLength="24.5" lengthAdjust="spacingAndGlyphs" text-anchor="start" ><tspan fill="transparent">1</tspan>0</text><path d="M806,0 L480,0 L480,1010 Q330,880 110,811 L110,1076 Q240,1115 375,1208 Q510,1300 560,1409 L806,1409 Z" transform="translate(320.50,556.8) scale(0.01076,-0.01221)" fill="#000"/>
<text id="t10" x="343.8" y="549.0" font-family='"Liberation Sans", sans-serif' font-weight="bold" font-size="16" textLength="8.2" lengthAdjust="spacingAndGlyphs" text-anchor="start" ><tspan fill="transparent">1</tspan></text><path d="M806,0 L480,0 L480,1010 Q330,880 110,811 L110,1076 Q240,1115 375,1208 Q510,1300 560,1409 L806,1409 Z" transform="translate(343.80,549.0) scale(0.00720,-0.00781)" fill="#000"/>
<text id="t11" x="434.2" y="556.8" font-family='"Liberation Sans", sans-serif' font-weight="bold" font-size="25" textLength="24.5" lengthAdjust="spacingAndGlyphs" text-anchor="start" ><tspan fill="transparent">1</tspan>0</text><path d="M806,0 L480,0 L480,1010 Q330,880 110,811 L110,1076 Q240,1115 375,1208 Q510,1300 560,1409 L806,1409 Z" transform="translate(434.20,556.8) scale(0.01076,-0.01221)" fill="#000"/>
<text id="t12" x="457.5" y="549.0" font-family='"Liberation Sans", sans-serif' font-weight="bold" font-size="16" textLength="8.2" lengthAdjust="spacingAndGlyphs" text-anchor="start" >2</text>
<text id="t13" x="541.2" y="556.8" font-family='"Liberation Sans", sans-serif' font-weight="bold" font-size="25" textLength="24.5" lengthAdjust="spacingAndGlyphs" text-anchor="start" ><tspan fill="transparent">1</tspan>0</text><path d="M806,0 L480,0 L480,1010 Q330,880 110,811 L110,1076 Q240,1115 375,1208 Q510,1300 560,1409 L806,1409 Z" transform="translate(541.20,556.8) scale(0.01076,-0.01221)" fill="#000"/>
<text id="t14" x="564.5" y="549.0" font-family='"Liberation Sans", sans-serif' font-weight="bold" font-size="16" textLength="8.2" lengthAdjust="spacingAndGlyphs" text-anchor="start" >3</text>
<text id="t15" x="0" y="0" font-family='"Liberation Sans", sans-serif' font-weight="bold" font-size="30.5" textLength="77.5" lengthAdjust="spacingAndGlyphs" text-anchor="start" transform="translate(38.0,339.2) rotate(-90)">Count</text>
<rect x="207" y="90" width="26" height="24.5" fill="#bdf7b8" stroke="#000" stroke-width="2.2"/>
<rect x="207" y="119" width="26" height="25" fill="#ff6260" stroke="#000" stroke-width="2.2"/>
<text id="t16" x="235.5" y="108.5" font-family='"Liberation Sans", sans-serif' font-weight="bold" font-size="24.5" textLength="166" lengthAdjust="spacingAndGlyphs" text-anchor="start" >IgG<tspan fill="transparent">1</tspan>-APC-A750</text><path d="M806,0 L480,0 L480,1010 Q330,880 110,811 L110,1076 Q240,1115 375,1208 Q510,1300 560,1409 L806,1409 Z" transform="translate(272.94,108.5) scale(0.01098,-0.01196)" fill="#000"/>
<text id="t17" x="235.5" y="142" font-family='"Liberation Sans", sans-serif' font-weight="bold" font-size="24.5" textLength="161" lengthAdjust="spacingAndGlyphs" text-anchor="start" >CD9-APC-A750</text>
</g></svg></body></html>
